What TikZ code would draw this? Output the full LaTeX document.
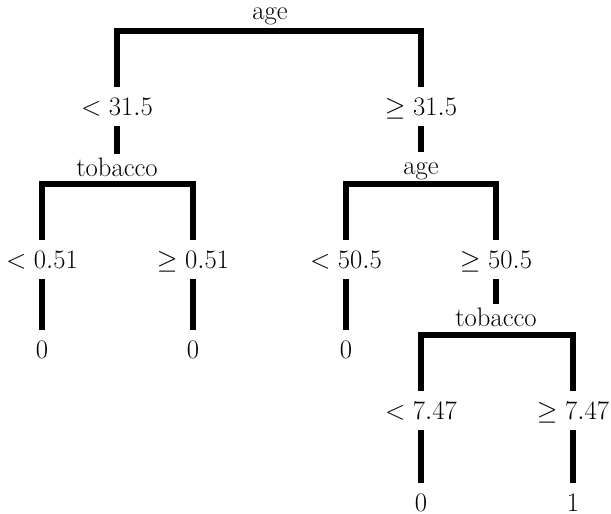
\RequirePackage{fix-cm}
\documentclass[tikz,border=0pt]{standalone}
\begin{document}
\begin{tikzpicture}[x=0.75pt,y=-0.75pt,line width=4.5pt,line join=miter,line cap=butt,
  every node/.style={font=\fontsize{20}{24}\selectfont,anchor=base,inner xsep=0pt},
  cond/.style={text height=12.6pt,text depth=0pt,inner ysep=6pt},
  split/.style={text height=13.5pt,text depth=0pt,inner ysep=1pt},
  top/.style={text height=9pt,text depth=3pt,inner ysep=0pt},
  leaf/.style={text height=12.6pt,text depth=0pt,inner ysep=0pt},
  toleaf/.style={shorten >=6pt}]
\useasboundingbox (0,0) rectangle (611,514);
% root
\node[top] (age1) at (270,19) {age};
\coordinate (b1l) at (117,31);
\coordinate (b1r) at (421,31);
\node[cond] (c1l) at (117,115) {$<31.5$};
\node[cond] (c1r) at (421,115) {$\geq31.5$};
\draw (c1l.north) -- (b1l) -- (b1r) -- (c1r.north);
% level 2
\node[split] (tob1) at (117,176) {tobacco};
\node[split] (age2) at (421,174) {age};
\draw (c1l.south) -- (tob1.north);
\draw (c1r.south) -- (age2.north);
\coordinate (b2a) at (42,183.5);
\coordinate (b2b) at (193,183.5);
\coordinate (b2c) at (346,183.5);
\coordinate (b2d) at (496,183.5);
\node[cond] (c2a) at (42,268) {$<0.51$};
\node[cond] (c2b) at (193,268) {$\geq0.51$};
\node[cond] (c2c) at (346,268) {$<50.5$};
\node[cond] (c2d) at (496,268) {$\geq50.5$};
\draw (c2a.north) -- (b2a) -- (b2b) -- (c2b.north);
\draw (c2c.north) -- (b2c) -- (b2d) -- (c2d.north);
% leaves level 2
\node[leaf] (l2a) at (42,358) {0};
\node[leaf] (l2b) at (193,358) {0};
\node[leaf] (l2c) at (346,358) {0};
\draw[toleaf] (c2a.south) -- (l2a.north);
\draw[toleaf] (c2b.south) -- (l2b.north);
\draw[toleaf] (c2c.south) -- (l2c.north);
% level 3
\node[split] (tob2) at (496,326) {tobacco};
\draw (c2d.south) -- (tob2.north);
\coordinate (b3a) at (421,334.5);
\coordinate (b3b) at (573,334.5);
\node[cond] (c3a) at (421,419) {$<7.47$};
\node[cond] (c3b) at (573,419) {$\geq7.47$};
\draw (c3a.north) -- (b3a) -- (b3b) -- (c3b.north);
\node[leaf] (l3a) at (421,511) {0};
\node[leaf] (l3b) at (573,511) {1};
\draw[toleaf] (c3a.south) -- (l3a.north);
\draw[toleaf] (c3b.south) -- (l3b.north);
\end{tikzpicture}
\end{document}
